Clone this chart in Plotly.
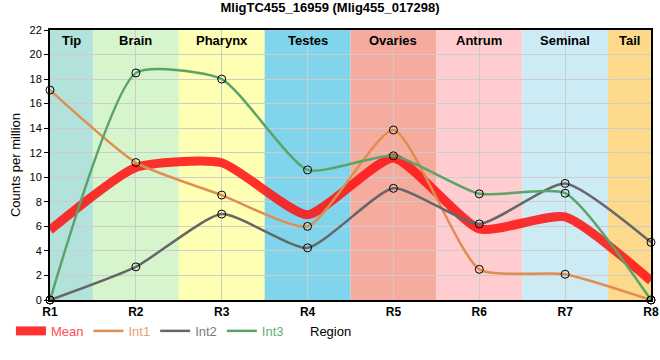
import plotly.graph_objects as go

regions = ["R1", "R2", "R3", "R4", "R5", "R6", "R7", "R8"]
int1 = [17.1, 11.2, 8.55, 6.0, 13.85, 2.5, 2.1, 0.0]
int2 = [0.0, 2.7, 7.0, 4.25, 9.1, 6.2, 9.5, 4.7]
int3 = [0.0, 18.5, 18.0, 10.6, 11.75, 8.65, 8.7, 0.0]
mean = [round((a + b + c) / 3, 3) for a, b, c in zip(int1, int2, int3)]

band_names = ["Tip", "Brain", "Pharynx", "Testes", "Ovaries", "Antrum", "Seminal", "Tail"]
band_starts = [0, 0.5, 1.5, 2.5, 3.5, 4.5, 5.5, 6.5]
band_ends = [0.5, 1.5, 2.5, 3.5, 4.5, 5.5, 6.5, 7]
band_colors = ["#b3e1dc", "#d6f5cd", "#ffffb3", "#80d5ec", "#f5ab9d", "#ffcccf", "#ccebf5", "#fdd98c"]

x = list(range(len(regions)))
FONT = "Liberation Sans, Arial, sans-serif"

fig = go.Figure()

series = [
    ("Mean", mean, "rgba(255,20,20,0.88)", 9, "#ff4d4d", False),
    ("Int1", int1, "#e08e50", 2.5, "#e8a070", True),
    ("Int2", int2, "#666666", 2.5, "#7a7a7a", True),
    ("Int3", int3, "#5aa469", 2.5, "#66ad75", True),
]

for name, vals, col, w, tcol, mk in series:
    fig.add_trace(go.Scatter(
        x=x, y=vals, mode="lines", line=dict(color=col, width=w, shape="spline", smoothing=0.55),
        name=f"<span style='color:{tcol}'>{name}</span>", cliponaxis=False, hoverinfo="skip"))

for name, vals, col, w, tcol, mk in series:
    if mk:
        fig.add_trace(go.Scatter(
            x=x, y=vals, mode="markers", showlegend=False, cliponaxis=False, hoverinfo="skip",
            marker=dict(symbol="circle-open", size=8, color="black", line=dict(width=1, color="black"))))

for n, s, e, c in zip(band_names, band_starts, band_ends, band_colors):
    fig.add_shape(type="rect", xref="x", yref="y", x0=s, x1=e, y0=0, y1=22,
                  fillcolor=c, line=dict(width=0), layer="below")
    fig.add_annotation(x=(s + e) / 2, y=22, xref="x", yref="y", text=f"<b>{n}</b>",
                       showarrow=False, yanchor="top", yshift=-1,
                       font=dict(family=FONT, size=13, color="black"))

fig.add_annotation(x=0.466, y=-0.115, xref="paper", yref="paper", yanchor="middle", text="Region",
                   showarrow=False, font=dict(family=FONT, size=13, color="black"))

fig.update_layout(
    width=660, height=360,
    margin=dict(l=50, r=9, t=30, b=60, autoexpand=False),
    paper_bgcolor="white", plot_bgcolor="white",
    title=dict(text="<b>MligTC455_16959 (Mlig455_017298)</b>", x=0.5, xanchor="center",
               y=1, yanchor="top", yref="container", pad=dict(t=3, b=0),
               font=dict(family=FONT, size=13, color="black")),
    showlegend=True,
    legend=dict(orientation="h", x=-0.065, xanchor="left", y=-0.059, yanchor="top",
                font=dict(family=FONT, size=13), itemwidth=30, tracegroupgap=0,
                bgcolor="rgba(0,0,0,0)"),
    xaxis=dict(range=[0, 7], tickmode="array", tickvals=x, ticktext=[f"<b>{r}</b>" for r in regions],
               showgrid=True, gridcolor="#cccccc", gridwidth=1,
               showline=True, linecolor="black", linewidth=2, mirror=True,
               ticks="", zeroline=False, automargin=False, ticklabeloverflow="allow",
               tickfont=dict(family=FONT, size=12, color="black")),
    yaxis=dict(range=[0, 22], dtick=2, showgrid=True, gridcolor="#cccccc", gridwidth=1,
               showline=True, linecolor="black", linewidth=2, mirror=True,
               ticks="outside", ticklen=4, tickcolor="black", zeroline=False, automargin=False,
               tickfont=dict(family=FONT, size=11, color="black"),
               title=dict(text="Counts per million", standoff=6,
                          font=dict(family=FONT, size=13, color="black"))),
)

fig.write_html("out.html", config={"displayModeBar": False},
               post_script="document.body.style.margin='0';document.body.style.overflow='hidden';")
